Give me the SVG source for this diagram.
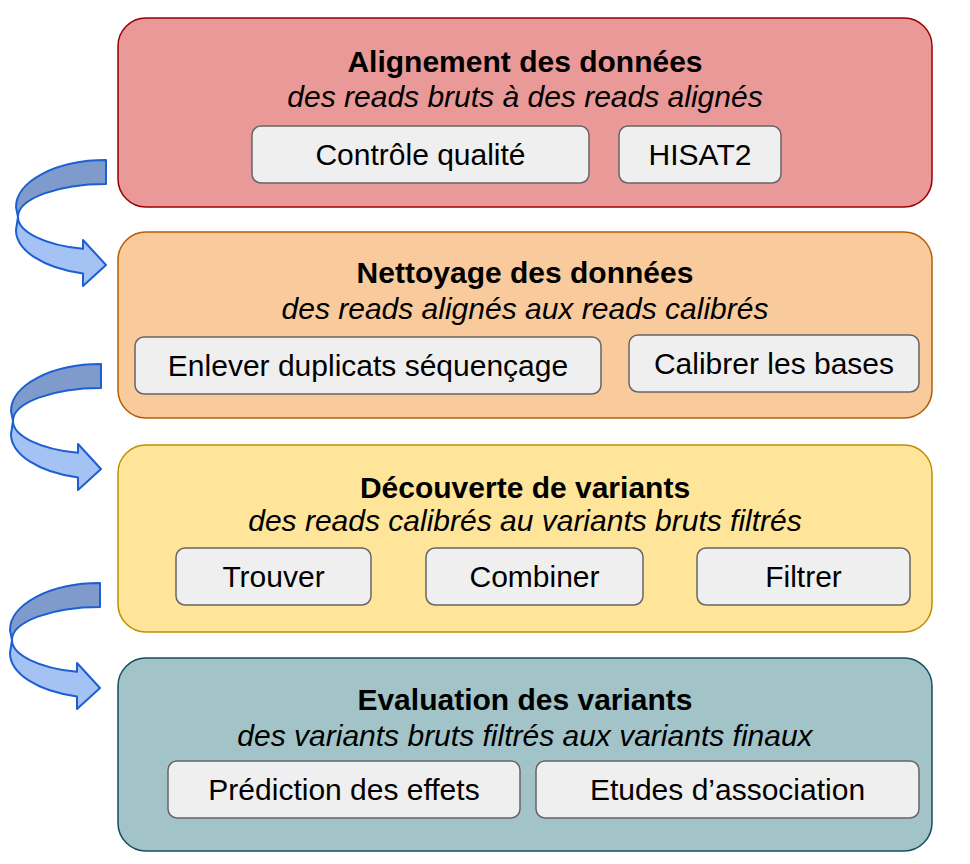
<svg xmlns="http://www.w3.org/2000/svg" xmlns:xlink="http://www.w3.org/1999/xlink" width="970" height="864" viewBox="0 0 970 864">
<style>
text{font-family:"Liberation Sans",Arial,sans-serif;font-size:30px;fill:#000;text-anchor:middle}
.t{font-weight:bold}
.s{font-style:italic}
.sub{fill:#efefef;stroke:#666666;stroke-width:1.5}
.big{stroke-width:1.5}
.dk{fill:#7f9bcb;stroke:#1c5fd2;stroke-width:2;stroke-linejoin:round}
.lt{fill:#a4c2f4;stroke:#1c5fd2;stroke-width:2;stroke-linejoin:round}
</style>
<defs>
<g id="curve">
<path class="dk" d="M0,0 A90,47 0 0 0 -90,47 L-88,57 A88,33 0 0 1 0,24 Z"/>
<path class="lt" d="M-88,57 A88,33 0 0 0 -23,88.85 L-23,80 L0,105 L-23,126 L-23,113.5 A90,45 0 0 1 -90,70 Z"/>
</g>
</defs>
<g id="connectors">
<use xlink:href="#curve" transform="translate(106,160)"/>
<use xlink:href="#curve" transform="translate(101,364)"/>
<use xlink:href="#curve" transform="translate(100,583)"/>
</g>
<g id="alignement">
<rect class="big" x="118" y="18" width="814" height="189" rx="28" fill="#ea9999" stroke="#990000"/>
<text class="t" x="525" y="72">Alignement des données</text>
<text class="s" x="525" y="107">des reads bruts à des reads alignés</text>
<rect class="sub" x="252" y="126" width="337" height="57" rx="9"/>
<text x="420.5" y="165">Contrôle qualité</text>
<rect class="sub" x="619" y="126" width="162" height="57" rx="9"/>
<text x="700" y="165">HISAT2</text>
</g>
<g id="nettoyage">
<rect class="big" x="118" y="232" width="814" height="186" rx="28" fill="#f9cb9c" stroke="#b45f06"/>
<text class="t" x="525" y="283">Nettoyage des données</text>
<text class="s" x="525" y="319">des reads alignés aux reads calibrés</text>
<rect class="sub" x="135" y="337" width="466" height="57" rx="9"/>
<text x="368" y="376">Enlever duplicats séquençage</text>
<rect class="sub" x="629" y="335" width="290" height="57" rx="9"/>
<text x="774" y="374">Calibrer les bases</text>
</g>
<g id="decouverte">
<rect class="big" x="118" y="445" width="814" height="187" rx="28" fill="#ffe599" stroke="#bf9000"/>
<text class="t" x="525" y="498">Découverte de variants</text>
<text class="s" x="525" y="531">des reads calibrés au variants bruts filtrés</text>
<rect class="sub" x="176" y="548" width="195" height="57" rx="9"/>
<text x="273.5" y="587">Trouver</text>
<rect class="sub" x="426" y="548" width="217" height="57" rx="9"/>
<text x="534.5" y="587">Combiner</text>
<rect class="sub" x="697" y="548" width="213" height="57" rx="9"/>
<text x="803.5" y="587">Filtrer</text>
</g>
<g id="evaluation">
<rect class="big" x="118" y="658" width="814" height="193" rx="28" fill="#a2c4c9" stroke="#134f5c"/>
<text class="t" x="525" y="710">Evaluation des variants</text>
<text class="s" x="525" y="746">des variants bruts filtrés aux variants finaux</text>
<rect class="sub" x="168" y="761" width="352" height="57" rx="9"/>
<text x="344" y="800">Prédiction des effets</text>
<rect class="sub" x="536" y="761" width="383" height="57" rx="9"/>
<text x="727.5" y="800">Etudes d’association</text>
</g>
</svg>
